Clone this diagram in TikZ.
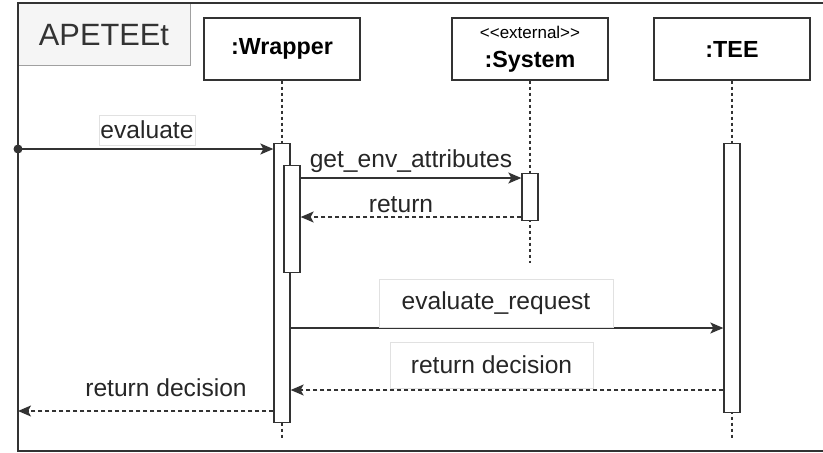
\documentclass[tikz,border=0pt]{standalone}
\usepackage{fontspec}
\setmainfont{Liberation Sans}
\usetikzlibrary{arrows.meta,positioning,calc}
\definecolor{lineg}{RGB}{51,51,51}
\definecolor{tabfill}{RGB}{245,245,245}
\definecolor{tabline}{RGB}{160,160,160}
\definecolor{lblline}{RGB}{225,225,225}

\begin{document}
\begin{tikzpicture}[x=1pt,y=-1pt,
    head/.style={draw=lineg, line width=1.3pt, fill=white, minimum width=156pt,
      minimum height=62pt, inner sep=0pt, font=\fontsize{23.3}{26}\selectfont\bfseries},
    life/.style={draw=lineg, line width=1.2pt, dash pattern=on 3pt off 3pt},
    actbar/.style={draw=lineg, line width=1.3pt, fill=white, minimum width=16pt,
      inner sep=0pt, anchor=north},
    msg/.style={draw=lineg, line width=1.3pt, -{Stealth[length=13pt,width=11pt,inset=3pt]}},
    ret/.style={msg, dash pattern=on 4pt off 3pt},
    lbl/.style={font=\fontsize{24.6}{28}\selectfont, text=black!85, inner sep=0pt},
    lblbox/.style={lbl, draw=lblline, line width=0.8pt}]
  \useasboundingbox (0,0) rectangle (823,453);
  % frame and its tab
  \draw[draw=tabline, fill=tabfill, line width=1pt] (18,3) rectangle (190,65);
  \draw[lineg, line width=1.3pt] (823,3) -- (18,3) -- (18,451) -- (823,451);
  \node[font=\fontsize{30.8}{34}\selectfont, text=black!80, anchor=base] (title) at (104,45) {APETEEt};
  %
  \node[head] (wrap) at (282,49) {:Wrapper};
  \node[head, align=center] (sys) at (530,49)
    {{\fontsize{17}{18}\selectfont\mdseries <\kern0pt<external>\kern0pt>}\\[3pt]:System};
  \node[head] (tee) at (732,49) {:TEE};
  \draw[life] (wrap.south) -- ++(0,357);
  \draw[life] (sys.south) -- ++(0,182);
  \draw[life] (tee.south) -- ++(0,357);
  %
  \node[actbar, minimum height=279pt] (wact) at (282,143) {};
  \node[actbar, minimum height=107pt] (wact2) at (292,165) {};
  \node[actbar, minimum height=47pt] (sact) at (530,173) {};
  \node[actbar, minimum height=269pt] (tact) at (732,143) {};
  %
  \coordinate (in) at (18,149);
  \coordinate (out) at (18,411);
  \fill[lineg] (in) circle (4.5);
  \draw[msg] (in) -- (wact.west |- in);
  \node[lblbox, minimum width=96pt, minimum height=30pt] (l1) at (147,130) {evaluate};
  \draw[msg] (wact2.east |- 0,178) -- (sact.west |- 0,178);
  \node[lbl, anchor=base] (l2) at (411,167) {get\_env\_attributes};
  \draw[ret] (sact.west |- 0,217) -- (wact2.east |- 0,217);
  \node[lbl, anchor=base] (l3) at (401,212) {return};
  \draw[msg] (wact.east |- 0,328) -- (tact.west |- 0,328);
  \node[lblbox, minimum width=234pt, minimum height=48pt] (l4) at (496,303) {evaluate\_request};
  \draw[ret] (tact.west |- 0,390) -- (wact.east |- 0,390);
  \node[lblbox, minimum width=203pt, minimum height=46pt] (l5) at (491.5,365) {return decision};
  \draw[ret] (wact.west |- out) -- (out);
  \node[lbl, anchor=base] (l6) at (166,396) {return decision};
\end{tikzpicture}
\end{document}
